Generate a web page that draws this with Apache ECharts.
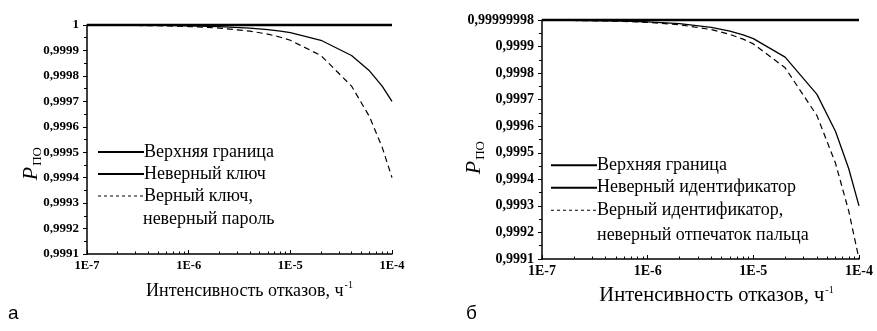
<!DOCTYPE html>
<html><head><meta charset="utf-8">
<script src="https://cdn.jsdelivr.net/npm/echarts@6/dist/echarts.min.js"></script>
<style>html,body{margin:0;padding:0;background:#fff}#c{width:877px;height:331px}</style>
</head><body><div id="c"></div>
<script>
// Failure intensity, 1/h
const lambda = [1e-7, 2e-7, 4e-7, 6e-7, 8e-7, 1e-6, 2e-6, 4e-6, 6e-6, 8e-6, 1e-5, 2e-5, 4e-5, 6e-5, 8e-5, 1e-4];
// Chart a
const aUpper = [1, 1, 1, 1, 1, 1, 1, 1, 1, 1, 1, 1, 1, 1, 1, 1];
const aWrongKey = [0.9999997, 0.9999994, 0.9999988, 0.9999982, 0.9999976, 0.999997, 0.999994, 0.999988, 0.999982, 0.999976, 0.99997, 0.99994, 0.99988, 0.99982, 0.99976, 0.9997];
const aRightKeyWrongPwd = [0.9999994, 0.9999988, 0.9999976, 0.9999964, 0.9999952, 0.999994, 0.999988, 0.999976, 0.999964, 0.999952, 0.99994, 0.99988, 0.99976, 0.99964, 0.99952, 0.9994];
// Chart b
const bUpper = [0.99999998, 0.99999998, 0.99999998, 0.99999998, 0.99999998, 0.99999998, 0.99999998, 0.99999998, 0.99999998, 0.99999998, 0.99999998, 0.99999998, 0.99999998, 0.99999998, 0.99999998, 0.99999998];
const bWrongId = [0.9999993, 0.9999986, 0.9999972, 0.9999958, 0.9999944, 0.999993, 0.999986, 0.999972, 0.999958, 0.999944, 0.99993, 0.99986, 0.99972, 0.99958, 0.99944, 0.9993];
const bRightIdWrongFp = [0.9999991, 0.9999982, 0.9999964, 0.9999946, 0.9999928, 0.999991, 0.999982, 0.999964, 0.999946, 0.999928, 0.99991, 0.99982, 0.99964, 0.99946, 0.99928, 0.9991];

const namesA = ['Верхняя граница', 'Неверный ключ', 'Верный ключ,|неверный пароль'];
const namesB = ['Верхняя граница ', 'Неверный идентификатор', 'Верный идентификатор,|неверный отпечаток пальца'];
const xName = 'Интенсивность отказов, ч';
const topLabelA = '1';
const topLabelB = '0,99999998';

const SERIF = '"Liberation Serif", "DejaVu Serif", serif';
const pairs = (ys) => lambda.map((x, i) => [x, ys[i]]);

function yAxis(gi, topLabel, fs) {
  return {
    type: 'value', gridIndex: gi, min: 0.9991, max: 1, interval: 0.0001,
    axisLine: { show: true, lineStyle: { color: '#000', width: 1.5 } },
    axisTick: { show: true, inside: false, length: 4, lineStyle: { color: '#000' } },
    minorTick: { show: true, splitNumber: 2, length: 3, lineStyle: { color: '#000' } },
    splitLine: { show: false },
    axisLabel: {
      color: '#000', fontFamily: SERIF, fontSize: fs, fontWeight: 'bold', margin: 8,
      formatter: (v) => Math.abs(v - 1) < 1e-9 ? topLabel : v.toFixed(4).replace('.', ',')
    }
  };
}
function xAxis(gi, fs, nfs, shift) {
  return {
    type: 'log', logBase: 10, gridIndex: gi, min: 1e-7, max: 1e-4,
    axisLine: { show: true, onZero: false, lineStyle: { color: '#000', width: 1.5 } },
    axisTick: { show: true, inside: true, length: 4, lineStyle: { color: '#000' } },
    minorTick: { show: true, splitNumber: 9, length: 2.5, lineStyle: { color: '#000' } },
    splitLine: { show: false },
    axisLabel: {
      color: '#000', fontFamily: SERIF, fontSize: fs, fontWeight: 'bold', margin: 5,
      formatter: (v) => '1E' + Math.round(Math.log10(v))
    },
    name: xName + '{s|-1}', nameLocation: 'middle', nameGap: 26,
    nameTextStyle: {
      color: '#000', fontFamily: SERIF, fontSize: nfs, padding: [0, 0, 0, shift],
      rich: { s: { fontFamily: SERIF, fontSize: 10, color: '#000', padding: [0, 0, 12, 1] } }
    }
  };
}
function line(name, xi, ys, opts) {
  return Object.assign({
    type: 'line', name: name.replace('|', ' '), xAxisIndex: xi, yAxisIndex: xi, data: pairs(ys),
    showSymbol: false, symbol: 'none', smooth: false, animation: false, clip: false,
    lineStyle: { color: '#000', width: 1.3 }, itemStyle: { color: '#000' }
  }, opts || {});
}
function legend(left, top, names, lh) {
  return {
    left, top, padding: 0, orient: 'vertical', itemWidth: 46, itemHeight: 8, itemGap: 0,
    data: names.map((n, i) => i === 2
      ? { name: n.replace('|', ' '), lineStyle: { type: [3, 3], width: 1 } }
      : { name: n }),
    selectedMode: false,
    itemStyle: { opacity: 0 },
    formatter: (n) => { const k = names.findIndex((m) => m.replace('|', ' ') === n); return names[k].split('|')[0]; },
    textStyle: { color: '#000', fontFamily: SERIF, fontSize: 18, lineHeight: lh, padding: [0, 0, 0, -5] }
  };
}
function secondLine(x, y, name) {
  return { type: 'text', x, y, style: { text: name.split('|')[1], fontFamily: SERIF, fontSize: 18, fill: '#000', verticalAlign: 'middle' } };
}
function pLabel(x, y) {
  return {
    type: 'text', left: x, top: y, rotation: Math.PI / 2,
    style: {
      text: '{p|P}{s|ПО}', fill: '#000',
      rich: {
        p: { fontFamily: SERIF, fontStyle: 'italic', fontSize: 22, fill: '#000' },
        s: { fontFamily: SERIF, fontSize: 13, fill: '#000', padding: [13, 0, 0, 1] }
      }
    }
  };
}

const chart = echarts.init(document.getElementById('c'), null, { renderer: 'canvas' });
chart.setOption({
  animation: false,
  grid: [
    { left: 87, top: 25, width: 305, height: 229 },
    { left: 542, top: 20, width: 317, height: 239 }
  ],
  xAxis: [xAxis(0, 12.5, 18, 20), xAxis(1, 14, 20.5, 32)],
  yAxis: [yAxis(0, topLabelA, 13), yAxis(1, topLabelB, 14)],
  legend: [legend(97, 141, namesA, 22), legend(550, 154, namesB, 22.5)],
  series: [
    line(namesA[0], 0, aUpper, { lineStyle: { color: '#000', width: 2.5 } }),
    line(namesA[1], 0, aWrongKey),
    line(namesA[2], 0, aRightKeyWrongPwd, { lineStyle: { color: '#000', width: 1.2, type: [6, 4] } }),
    line(namesB[0], 1, bUpper, { lineStyle: { color: '#000', width: 2.5 } }),
    line(namesB[1], 1, bWrongId),
    line(namesB[2], 1, bRightIdWrongFp, { lineStyle: { color: '#000', width: 1.2, type: [6, 4] } })
  ],
  graphic: [
    secondLine(143, 219, namesA[2]),
    secondLine(597, 235, namesB[2]),
    pLabel(20, 147),
    pLabel(463, 141),
    { type: 'text', left: 8, top: 304, style: { text: 'а', fontFamily: '"Liberation Sans", Arial, sans-serif', fontSize: 19, fill: '#000' } },
    { type: 'text', left: 466, top: 304, style: { text: 'б', fontFamily: '"Liberation Sans", Arial, sans-serif', fontSize: 19, fill: '#000' } }
  ]
});
</script></body></html>
